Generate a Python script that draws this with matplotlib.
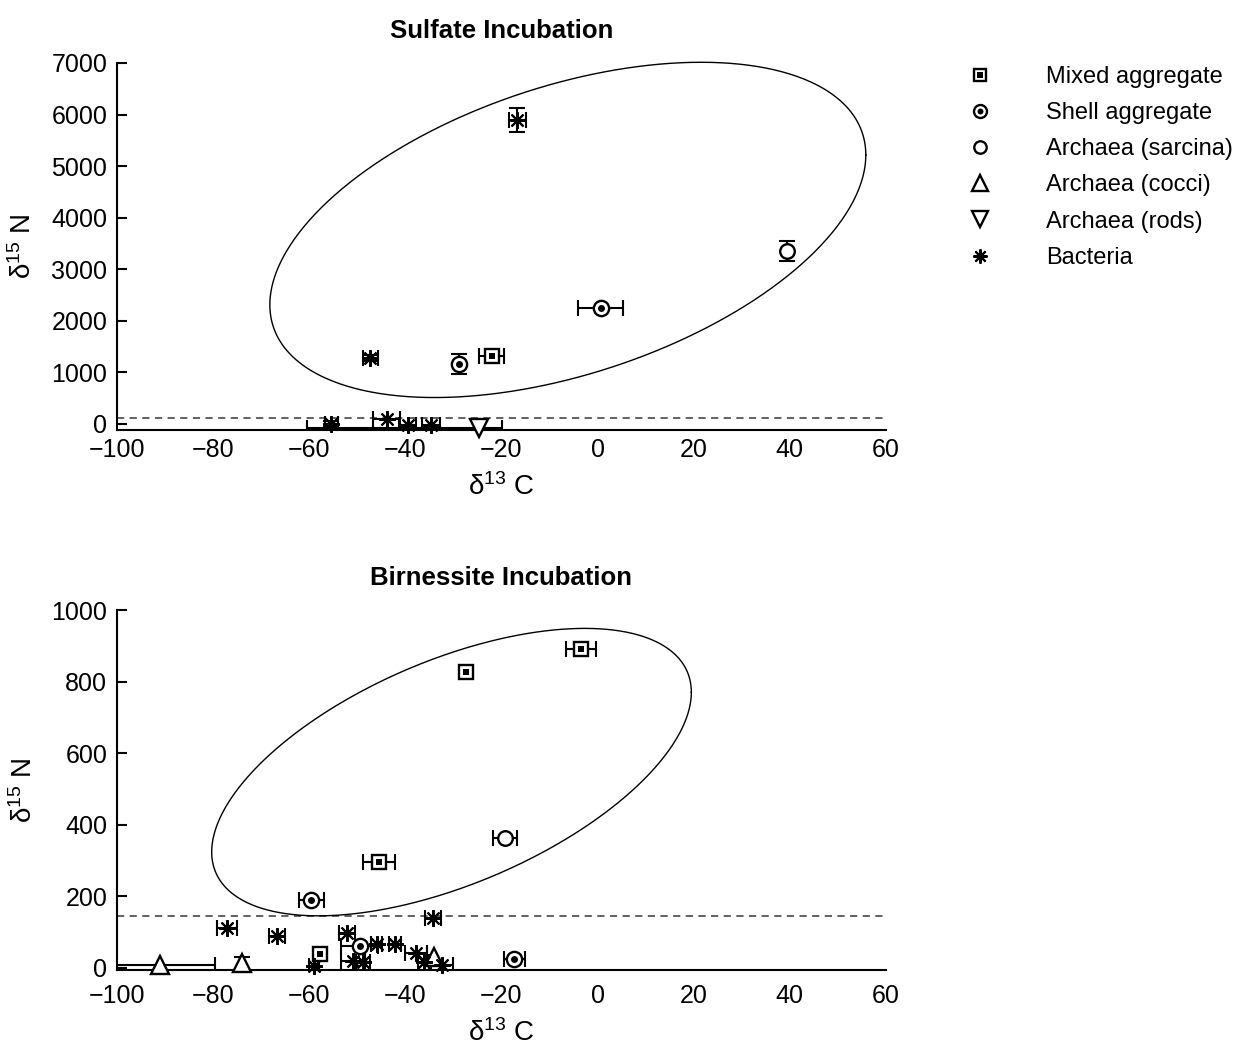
import numpy as np
import matplotlib
matplotlib.use("Agg")
import matplotlib.pyplot as plt
from matplotlib.lines import Line2D

plt.rcParams['font.family'] = ['Liberation Sans', 'DejaVu Sans']
plt.rcParams['mathtext.fontset'] = 'custom'
plt.rcParams['mathtext.rm'] = 'Liberation Sans'
plt.rcParams['mathtext.default'] = 'regular'


# ---------------- data: sulfate incubation ----------------
sul_mixed_x = [-22.0]
sul_mixed_y = [1320]
sul_mixed_xerr = [2.6]
sul_mixed_yerr = [0]

sul_shell_x = [0.6, -28.9]
sul_shell_y = [2240, 1160]
sul_shell_xerr = [4.7, 0]
sul_shell_yerr = [0, 190]

sul_sarcina_x = [39.5]
sul_sarcina_y = [3350]
sul_sarcina_xerr = [0]
sul_sarcina_yerr = [190]

sul_rods_x = [-24.7]
sul_rods_y = [-90]
sul_rods_xerr = [(35.8, 4.8)]
sul_rods_yerr = [120]

sul_bact_x = [-16.7, -47.3, -55.4, -43.9, -39.5, -34.7]
sul_bact_y = [5890, 1280, 0, 100, -30, -20]
sul_bact_xerr = [1.8, 1.6, 1.4, 2.8, 1.8, 1.9]
sul_bact_yerr = [230, 60, 60, 0, 0, 0]

sul_threshold = 120

# ---------------- data: birnessite incubation ----------------
bir_mixed_x = [-3.5, -27.4, -45.5, -57.8]
bir_mixed_y = [890, 827, 295, 40]
bir_mixed_xerr = [3.1, 0, 3.4, 0]
bir_mixed_yerr = [0, 0, 0, 0]

bir_shell_x = [-59.6, -49.5, -17.3]
bir_shell_y = [190, 60, 25]
bir_shell_xerr = [2.6, 3.8, 2.2]
bir_shell_yerr = [0, 0, 0]

bir_sarcina_x = [-19.3]
bir_sarcina_y = [362]
bir_sarcina_xerr = [2.5]
bir_sarcina_yerr = [0]

bir_cocci_x = [-91.0, -74.0, -34.1]
bir_cocci_y = [8, 14, 30]
bir_cocci_xerr = [11.4, 0, 0]
bir_cocci_yerr = [0, 17, 0]

bir_bact_x = [-34.3, -77.1, -66.7, -52.2, -46.0, -42.2, -37.8, -36.2, -32.4, -59.0, -50.8, -48.8]
bir_bact_y = [140, 110, 90, 98, 67, 67, 42, 17, 8, 4, 18, 15]
bir_bact_xerr = [1.7, 2.0, 1.7, 1.7, 1.2, 1.2, 2.3, 1.2, 2.3, 1.0, 2.5, 1.5]
bir_bact_yerr = [0] * 12

bir_threshold = 145

# ellipses: centre x, centre y, x half-width, y components (cos, sin)
sul_ellipse = (-6.2, 3762, 62.0, 1454, -2909)
bir_ellipse = (-30.4, 547, 49.9, 223, -334)

labels = ["Mixed aggregate", "Shell aggregate", "Archaea (sarcina)",
          "Archaea (cocci)", "Archaea (rods)", "Bacteria"]


def marker_layers(kind, scale=1.0):
    """list of Line2D kwargs, drawn on top of each other"""
    base = dict(ls='none', color='k', mec='k')
    if kind == 'mixed':
        return [dict(base, marker='s', ms=10.5 * scale, mfc='white', mew=1.7),
                dict(base, marker='s', ms=5.0 * scale, mfc='k', mew=0)]
    if kind == 'shell':
        return [dict(base, marker='o', ms=11 * scale, mfc='white', mew=1.7),
                dict(base, marker='o', ms=5.0 * scale, mfc='k', mew=0)]
    if kind == 'sarcina':
        return [dict(base, marker='o', ms=10.5 * scale, mfc='white', mew=1.7)]
    if kind == 'cocci':
        return [dict(base, marker='^', ms=13 * scale, mfc='white', mew=1.7)]
    if kind == 'rods':
        return [dict(base, marker='v', ms=13 * scale, mfc='white', mew=1.7)]
    return [dict(base, marker=(8, 2, 0), ms=12 * scale, mew=1.5)]


def draw_group(ax, kind, xs, ys, xerrs, yerrs):
    for x, y, ex, ey in zip(xs, ys, xerrs, yerrs):
        if np.any(np.atleast_1d(ex)):
            e = [[ex[0]], [ex[1]]] if isinstance(ex, tuple) else ex
            ax.errorbar(x, y, xerr=e, fmt='none', ecolor='k', elinewidth=1.5,
                        capsize=6, capthick=1.5, zorder=3)
        if ey:
            ax.errorbar(x, y, yerr=ey, fmt='none', ecolor='k', elinewidth=1.5,
                        capsize=6, capthick=1.5, zorder=3)
    for i, kw in enumerate(marker_layers(kind)):
        ax.plot(xs, ys, clip_on=False, zorder=4 + i, **kw)


def draw_ellipse(ax, params):
    cx, cy, hx, yc, ys = params
    t = np.linspace(0, 2 * np.pi, 500)
    ax.plot(cx + hx * np.cos(t), cy + yc * np.cos(t) + ys * np.sin(t),
            color='k', lw=1.0, zorder=2, clip_on=False)


def style_axes(ax, title, ylim, yticks, threshold, xpad):
    ax.set_xlim(-100, 60)
    ax.set_ylim(*ylim)
    ax.set_xticks(np.arange(-100, 61, 20))
    ax.set_yticks(yticks)
    for s in ['top', 'right']:
        ax.spines[s].set_visible(False)
    for s in ['left', 'bottom']:
        ax.spines[s].set_linewidth(1.5)
    ax.spines['left'].set_bounds(ylim[0], yticks[-1])
    ax.tick_params(axis='y', direction='in', length=7, width=1.5, pad=7, labelsize=18)
    ax.tick_params(axis='x', length=0, pad=xpad, labelsize=18)
    ax.set_title(title, fontweight='bold', fontsize=18.5, pad=18)
    ax.set_xlabel('δ$^{13}$ C', fontsize=20, labelpad=8)
    ax.set_ylabel('δ$^{15}$ N', fontsize=20, labelpad=10)
    ax.axhline(threshold, color='#555555', lw=1.3, ls=(0, (4, 3)), zorder=1)


fig = plt.figure(figsize=(12.56, 10.46), dpi=100)
ax1 = fig.add_axes([117 / 1256, 616 / 1046, 769 / 1256, 367 / 1046])
ax2 = fig.add_axes([117 / 1256, 76 / 1046, 769 / 1256, 360 / 1046])

style_axes(ax1, 'Sulfate Incubation', (-120, 7000), np.arange(0, 7001, 1000), sul_threshold, 6)
style_axes(ax2, 'Birnessite Incubation', (-6, 1000), np.arange(0, 1001, 200), bir_threshold, 10)

draw_ellipse(ax1, sul_ellipse)
draw_group(ax1, 'mixed', sul_mixed_x, sul_mixed_y, sul_mixed_xerr, sul_mixed_yerr)
draw_group(ax1, 'shell', sul_shell_x, sul_shell_y, sul_shell_xerr, sul_shell_yerr)
draw_group(ax1, 'sarcina', sul_sarcina_x, sul_sarcina_y, sul_sarcina_xerr, sul_sarcina_yerr)
draw_group(ax1, 'rods', sul_rods_x, sul_rods_y, sul_rods_xerr, sul_rods_yerr)
draw_group(ax1, 'bact', sul_bact_x, sul_bact_y, sul_bact_xerr, sul_bact_yerr)

draw_ellipse(ax2, bir_ellipse)
draw_group(ax2, 'mixed', bir_mixed_x, bir_mixed_y, bir_mixed_xerr, bir_mixed_yerr)
draw_group(ax2, 'shell', bir_shell_x, bir_shell_y, bir_shell_xerr, bir_shell_yerr)
draw_group(ax2, 'sarcina', bir_sarcina_x, bir_sarcina_y, bir_sarcina_xerr, bir_sarcina_yerr)
draw_group(ax2, 'cocci', bir_cocci_x, bir_cocci_y, bir_cocci_xerr, bir_cocci_yerr)
draw_group(ax2, 'bact', bir_bact_x, bir_bact_y, bir_bact_xerr, bir_bact_yerr)

# legend
handles = []
for kind in ['mixed', 'shell', 'sarcina', 'cocci', 'rods', 'bact']:
    handles.append(tuple(Line2D([], [], **kw) for kw in marker_layers(kind, 0.85)))
fig.legend(handles, labels, loc='upper left', bbox_to_anchor=(956 / 1256, 1 - 66 / 1046),
           frameon=False, fontsize=17, handlelength=2, handletextpad=1.8,
           labelspacing=0.6, borderpad=0, borderaxespad=0)

fig.savefig('out.png', dpi=100)
